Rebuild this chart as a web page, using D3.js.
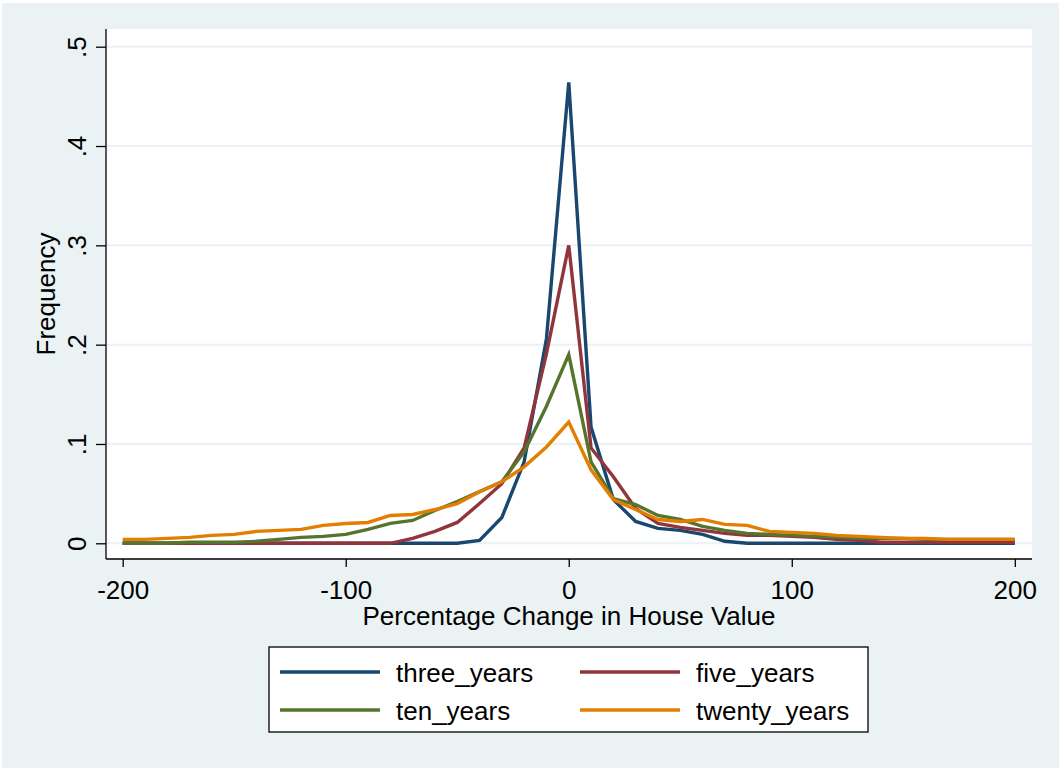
<!DOCTYPE html>
<html>

<head>
    <meta charset="utf-8">
    <title>House Value Change</title>
    <script src="https://cdn.jsdelivr.net/npm/d3@7"></script>
    <style>
        body { margin: 0; background: #fff; }
        text { font-family: "Liberation Sans", Arial, sans-serif; fill: #000; }
    </style>
</head>

<body>
    <svg width="1059" height="769" id="mainsvg"></svg>
    <script>
        // percentage change buckets, every 10 from -200 to 200
        const changes = d3.range(-200, 201, 10);

        const three_years = [0, 0, 0, 0, 0, 0, 0, 0, 0, 0, 0, 0, 0, 0, 0, 0,
            0.003, 0.026, 0.082, 0.206, 0.464, 0.117, 0.044, 0.022, 0.015, 0.013, 0.009, 0.002,
            0, 0, 0, 0, 0, 0, 0, 0, 0, 0, 0, 0, 0];
        const five_years = [0, 0, 0, 0, 0, 0, 0, 0, 0, 0, 0, 0, 0,
            0.005, 0.012, 0.021, 0.040, 0.060, 0.096, 0.191, 0.300, 0.096, 0.067, 0.035, 0.020,
            0.016, 0.013, 0.010, 0.008, 0.008, 0.007, 0.006, 0.004, 0.003, 0.001,
            0.001, 0.001, 0.001, 0.001, 0.001, 0.001];
        const ten_years = [0, 0, 0, 0.001, 0.001, 0.001, 0.002, 0.004, 0.006, 0.007, 0.009,
            0.014, 0.020, 0.023, 0.033, 0.042, 0.052, 0.062, 0.092, 0.138, 0.190, 0.082, 0.045,
            0.039, 0.028, 0.024, 0.017, 0.013, 0.010, 0.009, 0.008, 0.007, 0.006, 0.005, 0.005,
            0.005, 0.004, 0.004, 0.004, 0.004, 0.004];
        const twenty_years = [0.004, 0.004, 0.005, 0.006, 0.008, 0.009, 0.012, 0.013, 0.014,
            0.018, 0.020, 0.021, 0.028, 0.029, 0.034, 0.040, 0.052, 0.062, 0.077, 0.097, 0.122,
            0.074, 0.044, 0.034, 0.024, 0.022, 0.024, 0.019, 0.018, 0.012, 0.011, 0.010, 0.008,
            0.007, 0.006, 0.005, 0.005, 0.004, 0.004, 0.004, 0.004];

        const seriesNames = ['three_years', 'five_years', 'ten_years', 'twenty_years'];
        const seriesColors = ['#1a476f', '#90353b', '#55752f', '#e37e00'];
        const xTicks = [-200, -100, 0, 100, 200];
        const yTicks = [0, 0.1, 0.2, 0.3, 0.4, 0.5];

        const svg = d3.select('svg');
        const width = +svg.attr('width');
        const height = +svg.attr('height');
        const bg = '#eaf2f3';

        svg.append('rect').attr('x', 2).attr('y', 3)
            .attr('width', width - 2).attr('height', height - 4).attr('fill', bg);

        const plot = { left: 106, right: 1032, top: 29, bottom: 559 };
        svg.append('rect').attr('x', plot.left).attr('y', plot.top)
            .attr('width', plot.right - plot.left).attr('height', plot.bottom - plot.top)
            .attr('fill', '#fff');

        const x = d3.scaleLinear().domain([-200, 200]).range([122.7, 1014.8]);
        const y = d3.scaleLinear().domain([0, 0.5]).range([543.3, 46.7]);

        // gridlines
        svg.append('g').selectAll('line').data(yTicks).join('line')
            .attr('x1', plot.left).attr('x2', plot.right)
            .attr('y1', d => y(d)).attr('y2', d => y(d))
            .attr('stroke', bg).attr('stroke-width', 2);

        // lines
        const series = [three_years, five_years, ten_years, twenty_years];
        const line = d3.line().x((d, i) => x(changes[i])).y(d => y(d));
        svg.append('g').selectAll('path').data(series).join('path')
            .attr('d', line)
            .attr('fill', 'none')
            .attr('stroke', (d, i) => seriesColors[i])
            .attr('stroke-width', 3.4);

        // x axis (plain hyphen for negatives, like the original)
        const xAxis = svg.append('g').attr('transform', `translate(0,${plot.bottom})`)
            .call(d3.axisBottom(x).tickValues(xTicks).tickSize(8).tickFormat(d => String(d)));
        xAxis.select('.domain').attr('d', `M${plot.left},0H${plot.right}`).attr('stroke', '#000').attr('stroke-width', 1.3);
        xAxis.selectAll('.tick line').attr('stroke', '#000').attr('stroke-width', 1.3);
        xAxis.selectAll('.tick text').attr('font-size', 26).attr('font-family', null)
            .attr('dy', null).attr('y', 40);

        // y axis
        const yAxis = svg.append('g').attr('transform', `translate(${plot.left},0)`)
            .call(d3.axisLeft(y).tickValues(yTicks).tickSize(10)
                .tickFormat(d => d === 0 ? '0' : d3.format('.1f')(d).replace(/^0/, '')));
        yAxis.select('.domain').attr('d', `M0,${plot.top}V${plot.bottom}`).attr('stroke', '#000').attr('stroke-width', 1.3);
        yAxis.selectAll('.tick line').attr('stroke', '#000').attr('stroke-width', 1.3);
        yAxis.selectAll('.tick text').attr('font-size', 26).attr('font-family', null)
            .attr('x', null).attr('dy', null).attr('text-anchor', 'middle')
            .attr('transform', 'translate(-20,0) rotate(-90)');

        // axis titles
        svg.append('text').attr('x', (plot.left + plot.right) / 2).attr('y', 625)
            .attr('text-anchor', 'middle').attr('font-size', 26)
            .text('Percentage Change in House Value');
        svg.append('text').attr('transform', `translate(55,${(plot.top + plot.bottom) / 2}) rotate(-90)`)
            .attr('text-anchor', 'middle').attr('font-size', 26)
            .text('Frequency');

        // legend
        const legend = svg.append('g');
        legend.append('rect').attr('x', 269).attr('y', 647).attr('width', 599).attr('height', 85)
            .attr('fill', '#fff').attr('stroke', '#000').attr('stroke-width', 1.3);
        const legendX = [280, 580];
        const legendY = [672, 710];
        const items = legend.selectAll('g.item').data(seriesNames).join('g')
            .attr('class', 'item')
            .attr('transform', (d, i) => `translate(${legendX[i % 2]},${legendY[Math.floor(i / 2)]})`);
        items.append('line').attr('x1', 0).attr('x2', 100)
            .attr('stroke', (d, i) => seriesColors[i]).attr('stroke-width', 3.4);
        items.append('text').attr('x', 116).attr('y', 10).attr('font-size', 26).text(d => d);
    </script>
</body>

</html>
